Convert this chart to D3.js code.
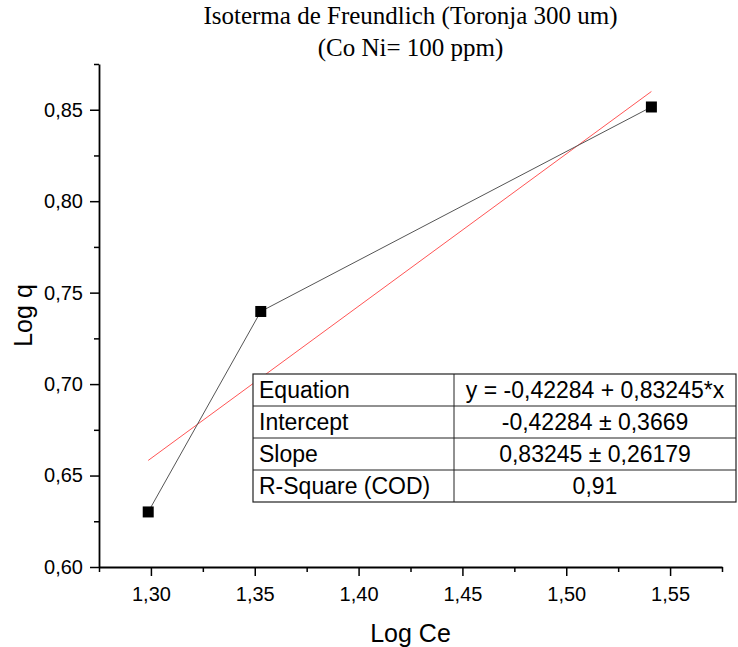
<!DOCTYPE html>
<html>
<head>
<meta charset="utf-8">
<script src="https://cdn.jsdelivr.net/npm/d3@7"></script>
<style>
  body { margin: 0; background: #fff; }
  .axis text { font-family: "Liberation Sans", Arial, sans-serif; font-size: 20px; fill: #000; }
  .axis path, .axis line { stroke: #000; }
</style>
</head>
<body>
<div id="chart"></div>
<script>
// data
var logCe = [1.2987, 1.3529, 1.5410],
    logQ  = [0.6301, 0.7397, 0.8515];

// linear fit reported in the table
var fitIntercept = -0.42284,
    fitSlope = 0.83245;

var tableLabels = ["Equation", "Intercept", "Slope", "R-Square (COD)"],
    tableValues = ["y = -0,42284 + 0,83245*x", "-0,42284 \u00b1 0,3669", "0,83245 \u00b1 0,26179", "0,91"];

var xMajor = [1.30, 1.35, 1.40, 1.45, 1.50, 1.55],
    yMajor = [0.60, 0.65, 0.70, 0.75, 0.80, 0.85];

var titleLines = ["Isoterma de Freundlich (Toronja 300 um)", "(Co Ni= 100 ppm)"];

var width = 738,
    height = 647,
    margin = {top: 64, right: 16, bottom: 80, left: 99};

var locale = d3.formatLocale({decimal: ",", thousands: ".", grouping: [3], currency: ["", ""]});
var fmt = locale.format(".2f");

var svg = d3.select("#chart").append("svg")
  .attr("width", width)
  .attr("height", height);

var plotW = width - margin.left - margin.right,
    plotH = height - margin.top - margin.bottom;

var x = d3.scaleLinear().domain([1.275, 1.575]).range([0, plotW]);
var y = d3.scaleLinear().domain([0.60, 0.875]).range([plotH, 0]);

var g = svg.append("g")
  .attr("transform", "translate(" + margin.left + "," + margin.top + ")");

// minor ticks
var xMinor = d3.range(0, 13).map(function(i) { return 1.275 + i * 0.025; })
  .filter(function(v) { return !xMajor.some(function(m) { return Math.abs(m - v) < 1e-6; }); });
var yMinor = d3.range(0, 12).map(function(i) { return 0.60 + i * 0.025; })
  .filter(function(v) { return !yMajor.some(function(m) { return Math.abs(m - v) < 1e-6; }); });

g.append("g").attr("class", "axis")
  .attr("transform", "translate(0," + plotH + ")")
  .call(d3.axisBottom(x).tickValues(xMinor).tickSize(5).tickSizeOuter(0).tickFormat(""))
  .call(function(s) { s.select(".domain").remove(); s.selectAll("line").attr("stroke-width", 1.5); });

g.append("g").attr("class", "axis")
  .call(d3.axisLeft(y).tickValues(yMinor).tickSize(5).tickSizeOuter(0).tickFormat(""))
  .call(function(s) { s.select(".domain").remove(); s.selectAll("line").attr("stroke-width", 1.5); });

var xAxis = g.append("g").attr("class", "axis")
  .attr("transform", "translate(0," + plotH + ")")
  .call(d3.axisBottom(x).tickValues(xMajor).tickSize(9).tickSizeOuter(0).tickPadding(11).tickFormat(fmt));
xAxis.select(".domain").attr("stroke-width", 1.8);
xAxis.selectAll("line").attr("stroke-width", 1.5);

var yAxis = g.append("g").attr("class", "axis")
  .call(d3.axisLeft(y).tickValues(yMajor).tickSize(9).tickSizeOuter(0).tickPadding(7).tickFormat(fmt));
yAxis.select(".domain").attr("stroke-width", 1.8);
yAxis.selectAll("line").attr("stroke-width", 1.5);

var pts = logCe.map(function(d, i) { return [d, logQ[i]]; });

// fit line over the data range
var xs = d3.extent(logCe);
g.append("line")
  .attr("x1", x(xs[0])).attr("y1", y(fitIntercept + fitSlope * xs[0]))
  .attr("x2", x(xs[1])).attr("y2", y(fitIntercept + fitSlope * xs[1]))
  .attr("stroke", "#ff5555")
  .attr("stroke-width", 1);

g.append("path")
  .datum(pts)
  .attr("fill", "none")
  .attr("stroke", "#555")
  .attr("stroke-width", 1)
  .attr("d", d3.line().x(function(d) { return x(d[0]); }).y(function(d) { return y(d[1]); }));

g.selectAll("rect.pt")
  .data(pts)
  .enter().append("rect")
  .attr("class", "pt")
  .attr("x", function(d) { return x(d[0]) - 5.5; })
  .attr("y", function(d) { return y(d[1]) - 5.5; })
  .attr("width", 11)
  .attr("height", 11)
  .attr("fill", "#000");

// axis titles
svg.append("text")
  .attr("x", margin.left + plotW / 2)
  .attr("y", 642)
  .attr("text-anchor", "middle")
  .style("font-family", "'Liberation Sans', Arial, sans-serif")
  .style("font-size", "25px")
  .text("Log Ce");

svg.append("text")
  .attr("transform", "translate(32," + (margin.top + plotH / 2) + ") rotate(-90)")
  .attr("text-anchor", "middle")
  .style("font-family", "'Liberation Sans', Arial, sans-serif")
  .style("font-size", "25px")
  .text("Log q");

// title
svg.append("text")
  .attr("text-anchor", "middle")
  .style("font-family", "'Liberation Serif', 'Times New Roman', serif")
  .style("font-size", "25px")
  .selectAll("tspan")
  .data(titleLines)
  .enter().append("tspan")
  .attr("x", margin.left + plotW / 2)
  .attr("y", function(d, i) { return 24 + i * 32; })
  .text(function(d) { return d; });

// results table
var table = svg.append("g").attr("transform", "translate(253,374)");
var rowH = 32, col1 = 201, tableW = 483;

table.append("rect")
  .attr("width", tableW)
  .attr("height", rowH * tableLabels.length)
  .attr("fill", "#fff")
  .attr("stroke", "#222")
  .attr("stroke-width", 1.2);

table.selectAll("line.row")
  .data(d3.range(1, tableLabels.length))
  .enter().append("line")
  .attr("class", "row")
  .attr("x1", 0).attr("x2", tableW)
  .attr("y1", function(d) { return d * rowH; })
  .attr("y2", function(d) { return d * rowH; })
  .attr("stroke", "#222").attr("stroke-width", 1);

table.append("line")
  .attr("x1", col1).attr("x2", col1)
  .attr("y1", 0).attr("y2", rowH * tableLabels.length)
  .attr("stroke", "#222").attr("stroke-width", 1);

table.selectAll("text.lab")
  .data(tableLabels)
  .enter().append("text")
  .attr("class", "lab")
  .attr("x", 6)
  .attr("y", function(d, i) { return i * rowH + 24; })
  .style("font-family", "'Liberation Sans', Arial, sans-serif")
  .style("font-size", "23px")
  .text(function(d) { return d; });

table.selectAll("text.val")
  .data(tableValues)
  .enter().append("text")
  .attr("class", "val")
  .attr("x", col1 + (tableW - col1) / 2)
  .attr("y", function(d, i) { return i * rowH + 24; })
  .attr("text-anchor", "middle")
  .style("font-family", "'Liberation Sans', Arial, sans-serif")
  .style("font-size", "23px")
  .text(function(d) { return d; });
</script>
</body>
</html>
